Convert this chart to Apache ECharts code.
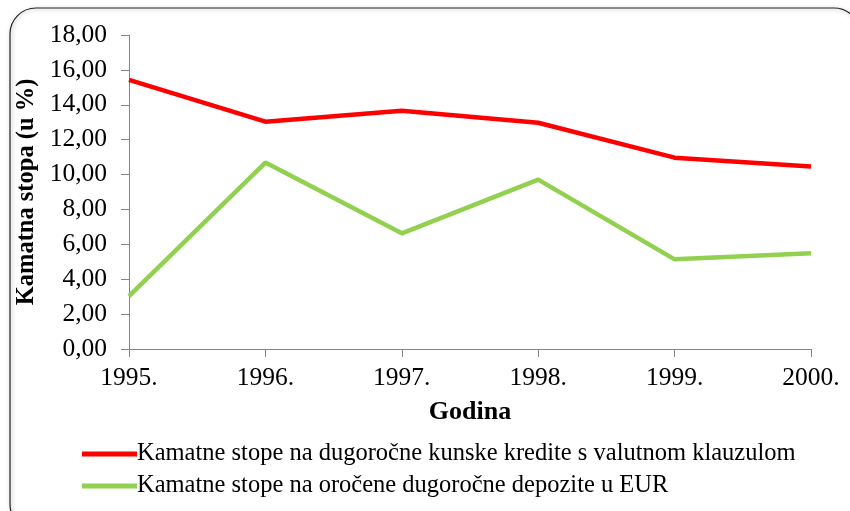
<!DOCTYPE html>
<html>
<head>
<meta charset="utf-8">
<script src="https://cdn.jsdelivr.net/npm/echarts@6/dist/echarts.min.js"></script>
<style>
  html, body { margin: 0; padding: 0; background: #fff; }
  #chart { width: 850px; height: 511px; }
</style>
</head>
<body>
<div id="chart"></div>
<script>
// podaci s grafikona
const godine = ['1995.', '1996.', '1997.', '1998.', '1999.', '2000.']
const krediti = [15.43, 13.03, 13.66, 12.97, 10.97, 10.46]
const depoziti = [3.03, 10.69, 6.63, 9.71, 5.14, 5.49]
const nazivKredita = 'Kamatne stope na dugoročne kunske kredite s valutnom klauzulom'
const nazivDepozita = 'Kamatne stope na oročene dugoročne depozite u EUR'

const font = 'Liberation Serif'
const myChart = echarts.init(document.getElementById('chart'))
myChart.setOption({
  animation: false,
  textStyle: { fontFamily: font },
  graphic: [
    {
      type: 'rect',
      shape: { x: 10, y: 8, width: 850, height: 522, r: 26 },
      style: { fill: 'none', stroke: '#222', lineWidth: 1.2, shadowBlur: 4, shadowColor: 'rgba(0,0,0,0.35)', shadowOffsetX: 1, shadowOffsetY: 1 },
      z: -1
    }
  ],
  grid: { left: 129, right: 39, top: 35, bottom: 162, containLabel: false },
  legend: {
    orient: 'vertical',
    left: 77,
    top: 436,
    itemGap: 6,
    itemWidth: 55,
    itemHeight: 5,
    icon: 'rect',
    textStyle: { fontFamily: font, fontSize: 24.5, lineHeight: 26, color: '#000', padding: [0, 0, 0, -5] },
    data: [nazivKredita, nazivDepozita]
  },
  xAxis: {
    type: 'category',
    data: godine,
    boundaryGap: false,
    name: 'Godina',
    nameLocation: 'middle',
    nameGap: 50,
    nameTextStyle: { fontFamily: font, fontSize: 26, fontWeight: 'bold', color: '#000' },
    axisLine: { lineStyle: { color: '#868686', width: 1 } },
    axisTick: { show: true, length: 8, inside: false, lineStyle: { color: '#868686' } },
    axisLabel: { fontFamily: font, fontSize: 25.5, color: '#000', margin: 16 },
    splitLine: { show: false }
  },
  yAxis: {
    type: 'value',
    min: 0,
    max: 18,
    interval: 2,
    name: 'Kamatna stopa (u %)',
    nameLocation: 'middle',
    nameGap: 78,
    nameRotate: 90,
    nameTextStyle: { fontFamily: font, fontSize: 24.5, fontWeight: 'bold', color: '#000' },
    axisLine: { show: true, lineStyle: { color: '#868686', width: 1 } },
    axisTick: { show: true, length: 8, lineStyle: { color: '#868686' } },
    axisLabel: {
      fontFamily: font,
      fontSize: 25.5,
      color: '#000',
      margin: 22,
      formatter: v => v.toFixed(2).replace('.', ',')
    },
    splitLine: { show: false }
  },
  series: [
    {
      name: nazivKredita,
      type: 'line',
      data: krediti,
      symbol: 'none',
      lineStyle: { color: '#FF0000', width: 4.5 },
      itemStyle: { color: '#FF0000' }
    },
    {
      name: nazivDepozita,
      type: 'line',
      data: depoziti,
      symbol: 'none',
      lineStyle: { color: '#92D050', width: 4.5 },
      itemStyle: { color: '#92D050' }
    }
  ]
})
</script>
</body>
</html>
